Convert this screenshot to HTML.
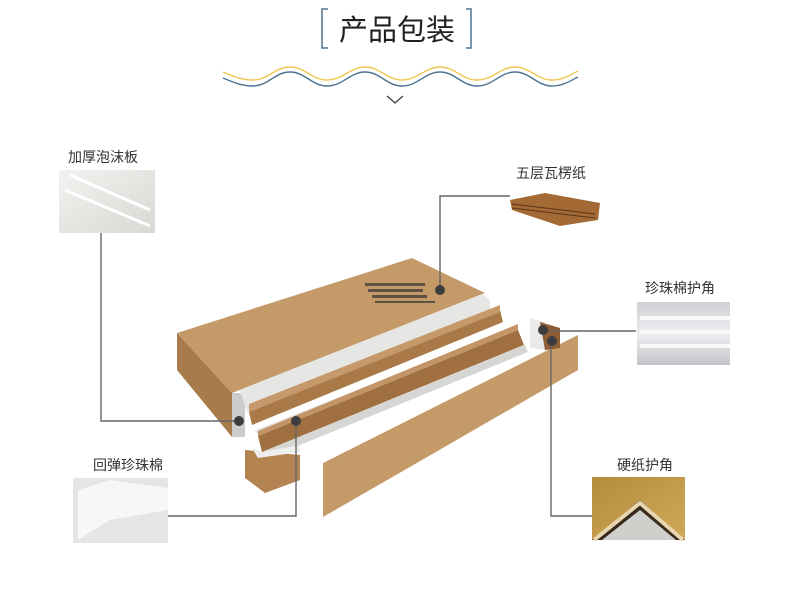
<!DOCTYPE html>
<html><head><meta charset="utf-8"><style>
html,body{margin:0;padding:0;background:#fff;width:790px;height:616px;overflow:hidden}
svg text{font-family:"Liberation Sans","Noto Sans CJK SC",sans-serif}
</style></head><body>
<svg width="790" height="616" viewBox="0 0 790 616" xmlns="http://www.w3.org/2000/svg">
<defs>
<linearGradient id="foam" x1="0" y1="0" x2="1" y2="1"><stop offset="0" stop-color="#f2f2f0"/><stop offset="1" stop-color="#d8d8d4"/></linearGradient>
<linearGradient id="pearl" x1="0" y1="0" x2="0" y2="1"><stop offset="0" stop-color="#cfcfd4"/><stop offset="0.5" stop-color="#eeeef2"/><stop offset="1" stop-color="#c4c4ca"/></linearGradient>
<linearGradient id="gold" x1="0" y1="0" x2="1" y2="1"><stop offset="0" stop-color="#b38c3e"/><stop offset="1" stop-color="#d2a955"/></linearGradient>
</defs>
<!-- header -->
<path d="M328 9 H322 V48 H328" fill="none" stroke="#4d7391" stroke-width="1.5"/>
<path d="M466 9 H471 V48 H466" fill="none" stroke="#4d7391" stroke-width="1.5"/>
<text x="397" y="40" font-size="29" text-anchor="middle" fill="#222">产品包装</text>
<g fill="none" stroke-width="1.4">
<path d="M223 72 C235 77 242 80 253 80 C268 80 275 67 290 67 C305 67 312 80 327 80 C343 80 350 67 365 67 C380 67 387 80 402 80 C418 80 425 67 440 67 C455 67 462 80 477 80 C493 80 500 67 515 67 C530 67 537 80 552 80 C563 80 570 75 578 71" stroke="#f0c650"/>
<path d="M223 78 C235 83 242 86 253 86 C268 86 275 72 290 72 C305 72 312 86 327 86 C343 86 350 72 365 72 C380 72 387 86 402 86 C418 86 425 72 440 72 C455 72 462 86 477 86 C493 86 500 72 515 72 C530 72 537 86 552 86 C563 86 570 81 578 77" stroke="#4d7391"/>
</g>
<path d="M387 96 L395 103 L403 96" fill="none" stroke="#444" stroke-width="1.4"/>

<!-- box -->
<polygon points="177,333 232,393 232,437 177,370" fill="#a87b4c"/>
<polygon points="232,393 232,437 245,437 245,393" fill="#ccc"/>
<polygon points="177,333 412,258 485,293 232,393" fill="#c59a69"/>
<polygon points="240,390 482,294 490,300 490,318 247,412" fill="#e6e6e4"/>
<polygon points="249,412 500,310 503,322 252,425" fill="#a97a48"/>
<polygon points="249,404 500,305 500,312 249,412" fill="#c6996a"/>
<polygon points="255,430 510,330 520,327 258,436" fill="#e8e8ec"/>
<polygon points="258,436 518,330 524,345 262,452" fill="#a17040"/>
<polygon points="258,431 518,324 518,330 258,436" fill="#c29466"/>
<polygon points="262,452 525,345 528,352 300,445 270,458" fill="#d6d6d4"/>
<polygon points="245,450 300,455 300,480 265,493 245,478" fill="#b38451"/>
<polygon points="252,448 262,452 300,445 300,452 258,458" fill="#eee"/>
<polygon points="323,463 578,335 578,370 323,517" fill="#c59a69"/>
<polygon points="530,318 545,322 545,350 530,348" fill="#e9e9e9"/>
<polygon points="540,322 560,328 560,348 545,350" fill="#8f5c33"/>
<g fill="#333" opacity="0.7"><rect x="365" y="283" width="60" height="3"/><rect x="368" y="289" width="55" height="3"/><rect x="372" y="295" width="55" height="3"/><rect x="375" y="301" width="60" height="2"/></g>

<!-- connectors -->
<g fill="none" stroke="#666" stroke-width="1.4">
<path d="M101 232 V421 H239"/>
<path d="M440 290 V196 H510"/>
<path d="M543 331 H636"/>
<path d="M551 341 V516 H592"/>
<path d="M296 421 V516 H168"/>
</g>
<g fill="#3d3d40">
<circle cx="440" cy="290" r="5"/><circle cx="239" cy="421" r="5"/><circle cx="296" cy="421" r="5"/><circle cx="543" cy="330" r="5"/><circle cx="552" cy="341" r="5"/>
</g>

<!-- images -->
<rect x="59" y="170" width="96" height="63" fill="url(#foam)"/>
<path d="M70 175 L150 210 M65 190 L150 226" stroke="#fff" stroke-width="3"/>
<polygon points="510,200 545,193 600,203 598,220 560,226 512,210" fill="#a36a36"/>
<path d="M512 204 L595 214 M512 208 L595 218" stroke="#5a3518" stroke-width="1"/>
<rect x="73" y="478" width="95" height="65" fill="#e5e5e5"/>
<path d="M78 490 L110 480 L168 488 V510 L110 520 L78 540 Z" fill="#f7f7f7"/>
<rect x="637" y="302" width="93" height="63" fill="url(#pearl)"/>
<path d="M640 318 H730 M640 332 H730 M640 346 H730" stroke="#fafafa" stroke-width="4"/>
<rect x="592" y="477" width="93" height="63" fill="url(#gold)"/>
<path d="M592 540 L640 500 L685 540 Z" fill="#3a2a1c"/>
<path d="M594 540 L640 503 L683 540" fill="none" stroke="#e8d6b0" stroke-width="4"/>
<path d="M602 540 L640 510 L676 540 Z" fill="#cfd0cc"/>

<!-- labels -->
<g font-size="14" fill="#333">
<text x="68" y="162">加厚泡沫板</text>
<text x="516" y="178">五层瓦楞纸</text>
<text x="645" y="293">珍珠棉护角</text>
<text x="93" y="470">回弹珍珠棉</text>
<text x="617" y="470">硬纸护角</text>
</g>
</svg>
</body></html>
